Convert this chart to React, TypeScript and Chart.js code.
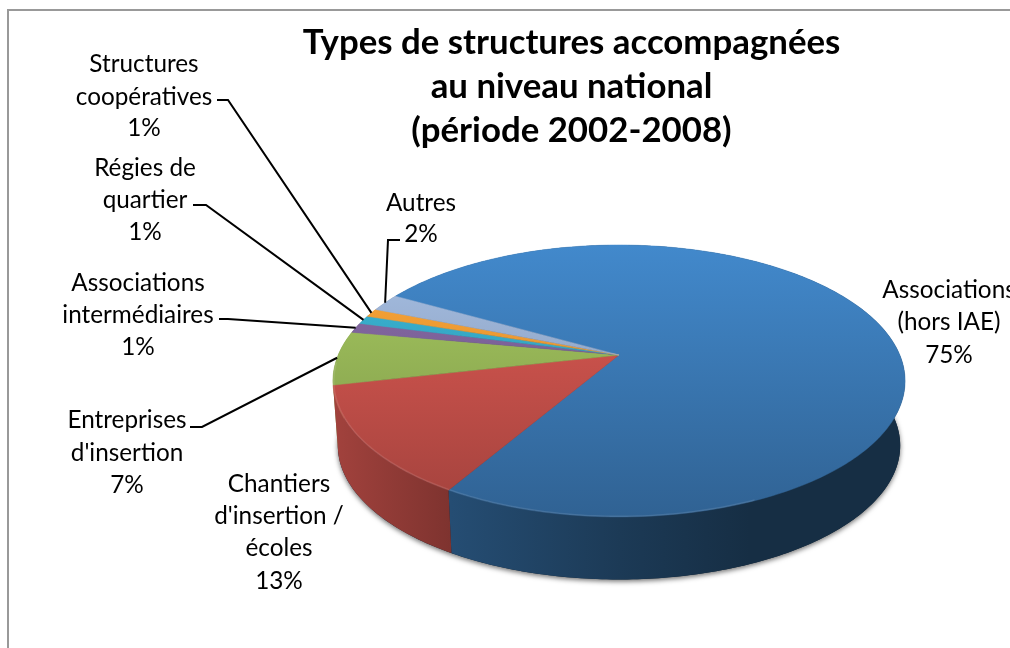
import React, { useEffect, useRef } from "react";
import Chart from "chart.js/auto";

const categories = [
  "Associations (hors IAE)",
  "Chantiers d'insertion / écoles",
  "Entreprises d'insertion",
  "Associations intermédiaires",
  "Régies de quartier",
  "Structures coopératives",
  "Autres",
];
const shares = [75.3, 13, 6.4, 1.2, 1.0, 1.0, 2.1];
const sliceColors = ["#3a78b3", "#c5504a", "#93b255", "#7a6096", "#35a3c0", "#f39531", "#93a9ca"];
const titleLines = ["Types de structures accompagnées", "au niveau national", "(période 2002-2008)"];
const labelLines = [
  ["Associations", "(hors IAE)", "75%"],
  ["Chantiers", "d'insertion /", "écoles", "13%"],
  ["Entreprises", "d'insertion", "7%"],
  ["Associations", "intermédiaires", "1%"],
  ["Régies de", "quartier", "1%"],
  ["Structures", "coopératives", "1%"],
  ["Autres", "2%"],
];

const FONT = "Lato, Carlito, sans-serif";
const G = { x0: 619, y0: 355, a: 280.8, b: 131, k: 0.191, ab: 276, bb: 129, yb: 420 };
const topP = (ang: number, r = 1) => {
  const u = Math.cos(ang) * r, v = Math.sin(ang) * r, w = 1 - G.k * v;
  return [G.x0 + (G.a * u) / w, G.y0 + (G.b * v) / w];
};
const botP = (ang: number) => {
  const u = Math.cos(ang), v = Math.sin(ang), w = 1 - G.k * v;
  return [G.x0 + (G.ab * u) / w, G.yb + (G.bb * v) / w];
};
const shade = (hex: string, f: number) => {
  const n = parseInt(hex.slice(1), 16);
  const c = [(n >> 16) & 255, (n >> 8) & 255, n & 255].map((v) => Math.min(255, Math.round(v * f)));
  return `rgb(${c[0]},${c[1]},${c[2]})`;
};
const arcAngles = (s: number, e: number) => {
  const out: number[] = [];
  const n = Math.max(2, Math.ceil((e - s) / 0.015));
  for (let i = 0; i <= n; i++) out.push(s + ((e - s) * i) / n);
  return out;
};

const labelPos = [
  { cx: 949, ys: [290, 322, 355] },
  { cx: 279, ys: [484, 516, 548, 581] },
  { cx: 127, ys: [420, 453, 485] },
  { cx: 138, ys: [283, 315, 347] },
  { cx: 145, ys: [168, 200, 232] },
  { cx: 144, ys: [64, 97, 128] },
  { cx: 421, ys: [203, 234] },
];
const leaders: (null | { from: number[]; elbow: number[]; r: number })[] = [
  null,
  null,
  { from: [190, 427], elbow: [202, 427], r: 1.0 },
  { from: [219, 319], elbow: [228, 319], r: 1.0 },
  { from: [193, 205], elbow: [206, 205], r: 1.0 },
  { from: [217, 100], elbow: [228, 100], r: 1.0 },
  { from: [400, 240], elbow: [388, 240], r: 1.0 },
];

const pie3d = {
  id: "pie3d",
  beforeDatasetDraw(chart: any) {
    const ctx = chart.ctx as CanvasRenderingContext2D;
    const arcs = chart.getDatasetMeta(0).data;
    const colors = chart.data.datasets[0].backgroundColor as string[];

    ctx.save();
    ctx.strokeStyle = "#999999";
    ctx.lineWidth = 2;
    ctx.beginPath();
    ctx.moveTo(8, 648);
    ctx.lineTo(8, 10);
    ctx.lineTo(1010, 10);
    ctx.stroke();
    ctx.restore();

    ctx.save();
    ctx.shadowColor = "rgba(0,0,0,0.55)";
    ctx.shadowBlur = 5;
    ctx.shadowOffsetY = 2;
    ctx.fillStyle = "#123";
    ctx.beginPath();
    arcAngles(0, Math.PI * 2).forEach((t, i) => {
      const p = botP(t);
      i ? ctx.lineTo(p[0], p[1]) : ctx.moveTo(p[0], p[1]);
    });
    ctx.closePath();
    ctx.fill();
    ctx.restore();

    const order = arcs
      .map((arc: any, i: number) => ({ arc, i, s: Math.sin((arc.startAngle + arc.endAngle) / 2) }))
      .sort((p: any, q: any) => p.s - q.s);
    order.forEach(({ arc, i }: any) => {
      const angs = arcAngles(arc.startAngle, arc.endAngle);
      const g = ctx.createLinearGradient(333, 0, 905, 0);
      const c = colors[i];
      g.addColorStop(0, shade(c, 0.82));
      g.addColorStop(118 / 572, shade(c, 0.64));
      g.addColorStop(287 / 572, shade(c, 0.48));
      g.addColorStop(417 / 572, shade(c, 0.38));
      g.addColorStop(1, shade(c, 0.38));
      ctx.fillStyle = g;
      ctx.beginPath();
      angs.forEach((t, j) => {
        const p = topP(t);
        j ? ctx.lineTo(p[0], p[1]) : ctx.moveTo(p[0], p[1]);
      });
      angs.slice().reverse().forEach((t) => {
        const p = botP(t);
        ctx.lineTo(p[0], p[1]);
      });
      ctx.closePath();
      ctx.fill();
    });

    arcs.forEach((arc: any, i: number) => {
      const angs = arcAngles(arc.startAngle, arc.endAngle);
      const g = ctx.createLinearGradient(0, 245, 0, 517);
      const c = colors[i];
      g.addColorStop(0, shade(c, 1.14));
      g.addColorStop(1, shade(c, 0.82));
      ctx.fillStyle = g;
      ctx.beginPath();
      ctx.moveTo(G.x0, G.y0);
      angs.forEach((t) => {
        const p = topP(t);
        ctx.lineTo(p[0], p[1]);
      });
      ctx.closePath();
      ctx.fill();
      ctx.strokeStyle = g;
      ctx.lineWidth = 0.5;
      ctx.stroke();

      ctx.save();
      ctx.strokeStyle = "rgba(255,255,255,0.1)";
      ctx.lineWidth = 1.5;
      ctx.beginPath();
      let on = false;
      angs.forEach((t) => {
        if (Math.sin(t) < 0.05 || Math.cos(t) > 0.4) { on = false; return; }
        const p = topP(t, 0.997);
        on ? ctx.lineTo(p[0], p[1]) : ctx.moveTo(p[0], p[1]);
        on = true;
      });
      ctx.stroke();
      ctx.restore();
    });

    ctx.save();
    ctx.strokeStyle = "#000";
    ctx.lineWidth = 2;
    arcs.forEach((arc: any, i: number) => {
      const l = leaders[i];
      if (!l) return;
      const end = topP((arc.startAngle + arc.endAngle) / 2, l.r);
      ctx.beginPath();
      ctx.moveTo(l.from[0], l.from[1]);
      ctx.lineTo(l.elbow[0], l.elbow[1]);
      ctx.lineTo(end[0], end[1]);
      ctx.stroke();
    });
    ctx.restore();

    ctx.save();
    ctx.fillStyle = "#000";
    ctx.textAlign = "center";
    ctx.textBaseline = "middle";
    ctx.font = `bold 34.8px ${FONT}`;
    titleLines.forEach((t, i) => ctx.fillText(t, 571.5, 43 + i * 44));
    ctx.font = `24.3px ${FONT}`;
    labelLines.forEach((lines, i) => {
      lines.forEach((t, j) => ctx.fillText(t, labelPos[i].cx, labelPos[i].ys[j]));
    });
    ctx.restore();
    return false;
  },
};

export default function App() {
  const ref = useRef<HTMLCanvasElement>(null);
  useEffect(() => {
    document.body.style.margin = "0";
    const chart = new Chart(ref.current!, {
      type: "pie",
      data: {
        labels: categories,
        datasets: [{ data: shares, backgroundColor: sliceColors, borderWidth: 0 }],
      },
      options: {
        responsive: false,
        animation: false,
        rotation: 299.4,
        plugins: { legend: { display: false }, tooltip: { enabled: false }, title: { display: false } },
      },
      plugins: [pie3d],
    } as any);
    return () => chart.destroy();
  }, []);
  return (
    <div style={{ width: 1010, height: 648, overflow: "hidden", background: "#fff" }}>
      <canvas ref={ref} width={1010} height={648} style={{ display: "block" }} />
    </div>
  );
}
